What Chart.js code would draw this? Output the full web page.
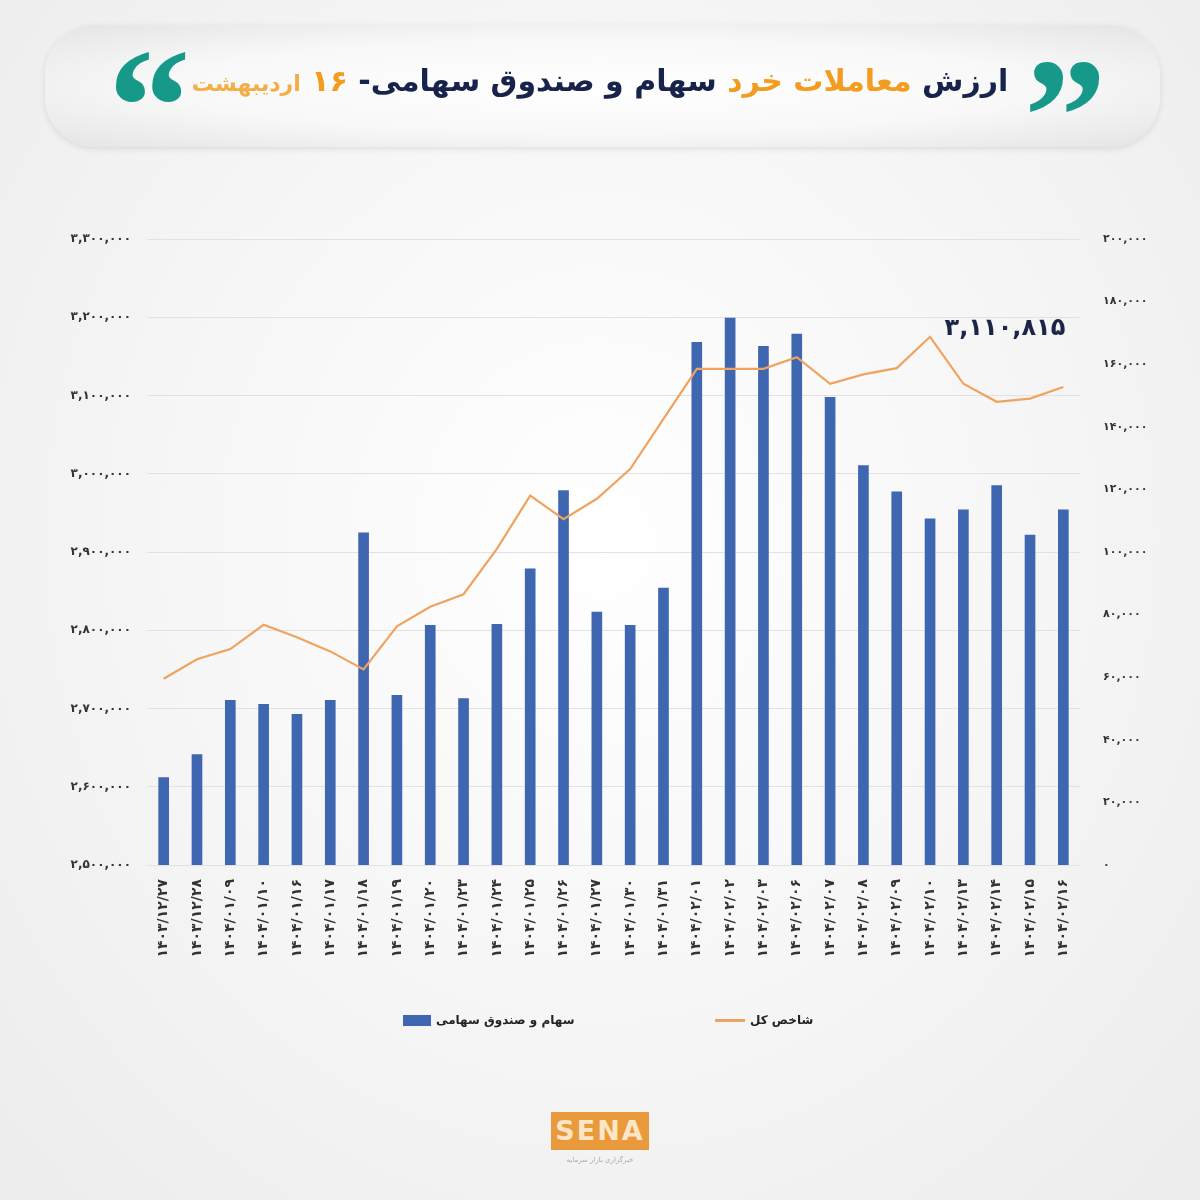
<!DOCTYPE html>
<html lang="fa">
<head>
<meta charset="utf-8">
<script src="https://cdn.jsdelivr.net/npm/chart.js@4.4.1/dist/chart.umd.min.js"></script>
<style>
  html, body { margin:0; padding:0; }
  body { width:1200px; height:1200px; position:relative; overflow:hidden;
    background: radial-gradient(ellipse at 50% 45%, #ffffff 0%, #f7f7f7 45%, #ececec 100%);
    font-family: "DejaVu Sans", sans-serif; }
  #wrap { position:absolute; left:0; top:0; width:1200px; height:1200px; }
  #titleBox { position:absolute; left:45px; top:25px; width:1115px; height:122px; border-radius:50px;
    background: radial-gradient(ellipse at 50% 50%, #ffffff 0%, #f8f8f8 55%, #e4e4e4 100%);
    box-shadow: 0 2px 6px rgba(0,0,0,0.10); }
  #title { position:absolute; left:0; right:0; top:63px; text-align:center; direction:rtl;
    font-family:"DejaVu Sans"; font-weight:bold; font-size:30px; color:#17234a; white-space:nowrap; }
  #title .o { color:#f39c1f; }
  #title .o2 { color:#f5ad45; font-size:22px; }
  .q { position:absolute; color:#17998a; font-family:"Liberation Serif"; font-weight:bold; font-size:165px; line-height:1; }
  #legend { position:absolute; top:1013px; left:0; width:1200px; height:24px; font-size:12px; font-weight:bold; color:#222; }
  .li { position:absolute; top:0; display:flex; align-items:center; gap:5px; direction:ltr; }
  .li .t { direction:rtl; }
  #logo { position:absolute; left:551px; top:1112px; width:98px; height:38px; background:#e99a3c;
    color:#fbe6c6; font-family:"DejaVu Sans"; font-weight:bold; font-size:27px; letter-spacing:2px;
    text-align:center; line-height:38px; }
  #logoSub { position:absolute; left:545px; top:1156px; width:110px; text-align:center; font-size:7px; color:#aaa; }
</style>
</head>
<body>
<div id="wrap"><canvas id="c" width="1200" height="1200"></canvas></div>
<div id="titleBox"></div>
<div id="title">ارزش <span class="o">معاملات خرد</span> سهام و صندوق سهامی- <span class="o">۱۶</span> <span class="o2">اردیبهشت</span></div>
<div class="q" style="left:1024px; top:34px;">”</div>
<div class="q" style="left:108px; top:24px;">“</div>
<div id="legend">
  <div class="li" style="left:403px;"><span style="display:inline-block;width:28px;height:11px;background:#3f66b0;"></span><span class="t">سهام و صندوق سهامی</span></div>
  <div class="li" style="left:715px;"><span style="display:inline-block;width:30px;height:3px;background:#f0a35e;"></span><span class="t">شاخص کل</span></div>
</div>
<div id="logo">SENA</div>
<div id="logoSub">خبرگزاری بازار سرمایه</div>
<script>
const categories = [
  "۱۴۰۳/۱۲/۲۷","۱۴۰۳/۱۲/۲۸","۱۴۰۴/۰۱/۰۹","۱۴۰۴/۰۱/۱۰","۱۴۰۴/۰۱/۱۶","۱۴۰۴/۰۱/۱۷","۱۴۰۴/۰۱/۱۸",
  "۱۴۰۴/۰۱/۱۹","۱۴۰۴/۰۱/۲۰","۱۴۰۴/۰۱/۲۳","۱۴۰۴/۰۱/۲۴","۱۴۰۴/۰۱/۲۵","۱۴۰۴/۰۱/۲۶","۱۴۰۴/۰۱/۲۷",
  "۱۴۰۴/۰۱/۳۰","۱۴۰۴/۰۱/۳۱","۱۴۰۴/۰۲/۰۱","۱۴۰۴/۰۲/۰۲","۱۴۰۴/۰۲/۰۳","۱۴۰۴/۰۲/۰۶","۱۴۰۴/۰۲/۰۷",
  "۱۴۰۴/۰۲/۰۸","۱۴۰۴/۰۲/۰۹","۱۴۰۴/۰۲/۱۰","۱۴۰۴/۰۲/۱۳","۱۴۰۴/۰۲/۱۴","۱۴۰۴/۰۲/۱۵","۱۴۰۴/۰۲/۱۶"
];
const retailValue = [27900, 35300, 52600, 51300, 48100, 52600, 106100, 54200, 76600, 53200, 76900, 94600, 119600, 80800,
  76600, 88500, 167000, 174700, 165700, 169600, 149400, 127600, 119200, 110600, 113500, 121200, 105400, 113500];
const indexValue = [2738000, 2763000, 2776000, 2807000, 2791000, 2773000, 2750000, 2805000, 2830000, 2846000, 2904000,
  2972000, 2942000, 2968000, 3006000, 3070000, 3134000, 3134000, 3134000, 3149000, 3115000, 3127000, 3135000, 3175000,
  3115000, 3092000, 3096000, 3110815];
const leftTicks = {min: 2500000, max: 3300000, step: 100000};
const rightTicks = {min: 0, max: 200000, step: 20000};
const seriesNames = ["سهام و صندوق سهامی", "شاخص کل"];

const fa = s => String(s).replace(/\d/g, d => "۰۱۲۳۴۵۶۷۸۹"[d]);
const fmt = v => fa(Math.round(v).toLocaleString('en-US'));

const lastLabel = {
  id: 'lastLabel',
  afterDatasetsDraw(chart) {
    const meta = chart.getDatasetMeta(1);
    const pt = meta.data[meta.data.length - 1];
    const ctx = chart.ctx;
    ctx.save();
    ctx.font = 'bold 24px "DejaVu Sans"';
    ctx.fillStyle = '#1b2547';
    ctx.textAlign = 'right';
    ctx.textBaseline = 'middle';
    ctx.fillText(fmt(indexValue[indexValue.length - 1]), pt.x + 2, pt.y - 58);
    ctx.restore();
  }
};

new Chart(document.getElementById('c'), {
  data: {
    labels: categories,
    datasets: [
      { type: 'bar', label: seriesNames[0], data: retailValue, yAxisID: 'y1', backgroundColor: '#3f66b0',
        barThickness: 10, order: 1 },
      { type: 'line', label: seriesNames[1], data: indexValue, yAxisID: 'y', borderColor: '#f0a35e',
        borderWidth: 2.2, pointRadius: 0, tension: 0, fill: false, order: 0 }
    ]
  },
  options: {
    responsive: false,
    animation: false,
    layout: { padding: { top: 239, left: 40, right: 40, bottom: 205 } },
    plugins: { legend: { display: false }, tooltip: { enabled: false } },
    scales: {
      x: {
        grid: { display: false },
        border: { display: false },
        ticks: { minRotation: 90, maxRotation: 90, autoSkip: false, color: '#333',
          font: { family: 'DejaVu Sans', size: 14, weight: 'bold' }, padding: 6 },
        afterFit(s) { s.height = 130; }
      },
      y: {
        position: 'left', min: leftTicks.min, max: leftTicks.max,
        grid: { color: '#e2e2e2', drawTicks: false, lineWidth: 1 },
        border: { display: false },
        ticks: { stepSize: leftTicks.step, color: '#333', padding: 16,
          font: { family: 'DejaVu Sans', size: 12, weight: 'bold' }, callback: v => fmt(v) },
        afterFit(s) { s.width = 107; }
      },
      y1: {
        position: 'right', min: rightTicks.min, max: rightTicks.max,
        grid: { display: false },
        border: { display: false },
        ticks: { stepSize: rightTicks.step, color: '#333', padding: 15,
          font: { family: 'DejaVu Sans', size: 11, weight: 'bold' }, callback: v => fmt(v) },
        afterFit(s) { s.width = 80; }
      }
    }
  },
  plugins: [lastLabel]
});
</script>
</body>
</html>
